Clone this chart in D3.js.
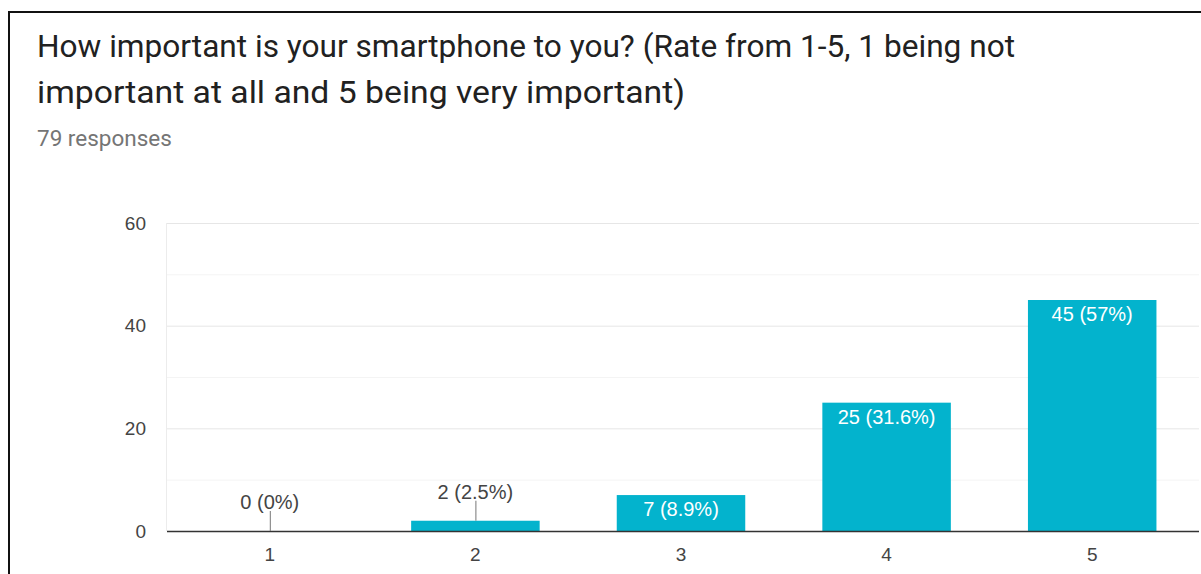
<!DOCTYPE html>
<html>
<head>
<meta charset="utf-8">
<script src="https://cdn.jsdelivr.net/npm/d3@7"></script>
<style>
  html, body { margin: 0; padding: 0; background: #fff; }
  svg { display: block; }
</style>
</head>
<body>
<svg id="chart" width="1201" height="574"></svg>
<script>
// Survey answers: rating 1-5 and number of respondents
const categories = ["1", "2", "3", "4", "5"];
const counts = [0, 2, 7, 25, 45];
const percentLabels = ["0%", "2.5%", "8.9%", "31.6%", "57%"];
const yTicks = [0, 20, 40, 60];
const yMinorTicks = [10, 30, 50];
const titleLines = [
  "How important is your smartphone to you? (Rate from 1-5, 1 being not",
  "important at all and 5 being very important)"
];
const subtitle = "79 responses";

const svg = d3.select("#chart");
const W = 1201, H = 574;

// card frame (top and left edges)
svg.append("line").attr("x1", 8).attr("x2", W).attr("y1", 12).attr("y2", 12)
  .attr("stroke", "#111").attr("stroke-width", 2);
svg.append("line").attr("x1", 9).attr("x2", 9).attr("y1", 12).attr("y2", H)
  .attr("stroke", "#111").attr("stroke-width", 2);

// title and response count
const titleWidths = [978, 648];
titleLines.forEach((t, i) => {
  svg.append("text")
    .attr("x", 37).attr("y", 57 + i * 46)
    .attr("font-family", "Roboto, 'Noto Sans', sans-serif")
    .attr("font-size", 31)
    .attr("fill", "#212121")
    .attr("textLength", titleWidths[i])
    .attr("lengthAdjust", "spacingAndGlyphs")
    .text(t);
});
svg.append("text")
  .attr("x", 37).attr("y", 146)
  .attr("font-family", "Roboto, 'Noto Sans', sans-serif")
  .attr("font-size", 22.5)
  .attr("fill", "#757575")
  .text(subtitle);

// scales
const plotLeft = 167, plotRight = 1199;
const x = d3.scaleBand()
  .domain(categories)
  .range([plotLeft, 1195])
  .paddingInner(0.375)
  .paddingOuter(0.1875);
const y = d3.scaleLinear().domain([0, 60]).range([531, 223]);

// gridlines
svg.append("g").selectAll("line").data(yMinorTicks).join("line")
  .attr("x1", plotLeft).attr("x2", plotRight)
  .attr("y1", d => y(d) + 0.5).attr("y2", d => y(d) + 0.5)
  .attr("stroke", "#f4f4f4");
svg.append("g").selectAll("line").data(yTicks.filter(d => d !== 0)).join("line")
  .attr("x1", plotLeft).attr("x2", plotRight)
  .attr("y1", d => y(d) + 0.5).attr("y2", d => y(d) + 0.5)
  .attr("stroke", "#e6e6e6");
svg.append("line")
  .attr("x1", plotLeft - 0.5).attr("x2", plotLeft - 0.5)
  .attr("y1", y(60)).attr("y2", y(0))
  .attr("stroke", "#ececec");

const axisFont = "Arial, 'Liberation Sans', sans-serif";

// y axis labels
const yAxis = d3.axisLeft(y).tickValues(yTicks).tickSize(0).tickPadding(21);
const gy = svg.append("g").attr("transform", `translate(${plotLeft},0)`).call(yAxis);
gy.select(".domain").remove();
gy.selectAll("text")
  .attr("font-family", axisFont)
  .attr("font-size", 19)
  .attr("fill", "#444");

// bars
const data = categories.map((c, i) => ({ c, v: counts[i], p: percentLabels[i] }));
svg.append("g").selectAll("rect").data(data).join("rect")
  .attr("x", d => x(d.c))
  .attr("width", x.bandwidth())
  .attr("y", d => y(d.v))
  .attr("height", d => y(0) - y(d.v))
  .attr("fill", "#03b3cd");

// baseline
svg.append("line")
  .attr("x1", plotLeft).attr("x2", plotRight)
  .attr("y1", y(0) + 0.5).attr("y2", y(0) + 0.5)
  .attr("stroke", "#333").attr("stroke-width", 1.3);

// x axis labels
const xAxis = d3.axisBottom(x).tickSize(0).tickPadding(17);
const gx = svg.append("g").attr("transform", `translate(0,${y(0)})`).call(xAxis);
gx.select(".domain").remove();
gx.selectAll("text")
  .attr("font-family", axisFont)
  .attr("font-size", 19)
  .attr("fill", "#444");

// value annotations: inside tall bars, above short bars with a stem
data.forEach(d => {
  const cx = x(d.c) + x.bandwidth() / 2;
  const top = y(d.v);
  const txt = `${d.v} (${d.p})`;
  if (y(0) - top > 25) {
    svg.append("text")
      .attr("x", cx).attr("y", top + 21)
      .attr("text-anchor", "middle")
      .attr("font-family", axisFont).attr("font-size", 20)
      .attr("fill", "#fff")
      .text(txt);
  } else {
    svg.append("line")
      .attr("x1", cx + 0.5).attr("x2", cx + 0.5)
      .attr("y1", top - 20).attr("y2", top)
      .attr("stroke", "#777");
    svg.append("text")
      .attr("x", cx).attr("y", top - 22)
      .attr("text-anchor", "middle")
      .attr("font-family", axisFont).attr("font-size", 20)
      .attr("fill", "#444")
      .text(txt);
  }
});
</script>
</body>
</html>
